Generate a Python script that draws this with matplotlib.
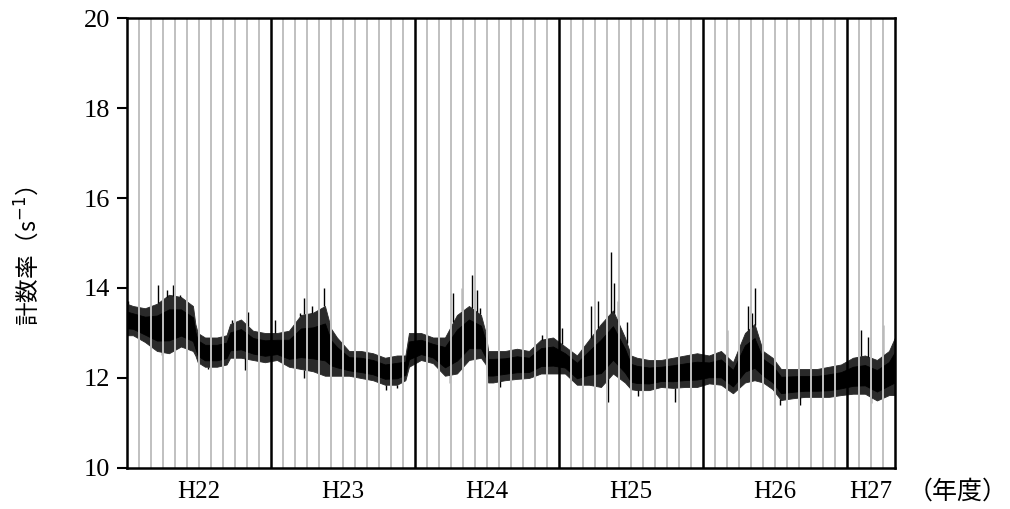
import numpy as np
import matplotlib.pyplot as plt

plt.rcParams['font.family'] = ['Liberation Serif', 'Noto Sans CJK JP', 'DejaVu Sans']

years = ['H22', 'H23', 'H24', 'H25', 'H26', 'H27']
months_in_year = [12, 12, 12, 12, 12, 4]

# 経過月 (H22年4月 = 0) ごとの計数率の幅 (s^-1)
t = [0.0, 0.5, 1.5, 2.5, 3.5, 4.5, 5.5, 5.7, 5.9, 6.5, 7.5, 8.3, 8.6, 9.5, 10.5, 11.5,
     12.5, 13.5, 14.5, 15.5, 16.5, 17.0, 17.5, 18.5, 19.5, 20.5, 21.5, 22.5, 23.2, 23.5,
     24.5, 25.5, 26.5, 27.5, 28.5, 29.5, 29.9, 30.1, 30.5, 31.5, 32.5, 33.5, 34.5, 35.5,
     36.5, 37.5, 38.5, 39.5, 40.5, 41.5, 42.0, 42.5, 43.5, 44.5, 45.5, 46.5, 47.5,
     48.5, 49.5, 50.5, 51.5, 52.3, 53.0, 53.8, 54.5, 55.5, 56.5, 57.5, 58.5, 59.5,
     60.5, 61.5, 62.5, 63.5, 64.0]
low = [12.95, 12.95, 12.8, 12.6, 12.55, 12.7, 12.6, 12.5, 12.35, 12.25, 12.25, 12.3, 12.45, 12.45, 12.4, 12.35,
       12.4, 12.25, 12.2, 12.15, 12.05, 12.05, 12.05, 12.05, 12.0, 11.95, 11.85, 11.85, 11.95, 12.25,
       12.4, 12.33, 12.05, 12.1, 12.4, 12.45, 12.3, 11.9, 11.9, 11.95, 11.98, 12.0, 12.1, 12.1,
       12.1, 11.85, 11.85, 11.8, 12.1, 11.9, 11.75, 11.73, 11.73, 11.8, 11.78, 11.8, 11.8,
       11.88, 11.85, 11.66, 11.9, 11.95, 11.9, 11.75, 11.51, 11.55, 11.58, 11.58, 11.58, 11.62,
       11.65, 11.65, 11.5, 11.62, 11.62]
high = [13.65, 13.6, 13.55, 13.65, 13.85, 13.8, 13.6, 13.2, 13.0, 12.9, 12.9, 12.95, 13.2, 13.3, 13.05, 13.0,
        13.0, 13.05, 13.4, 13.45, 13.6, 13.1, 12.9, 12.6, 12.6, 12.55, 12.45, 12.5, 12.5, 13.0,
        13.0, 12.9, 12.9, 13.4, 13.6, 13.4, 13.0, 12.6, 12.6, 12.6, 12.65, 12.6, 12.85, 12.9,
        12.7, 12.5, 12.85, 13.2, 13.5, 12.9, 12.5, 12.45, 12.4, 12.4, 12.45, 12.5, 12.55,
        12.5, 12.6, 12.35, 13.0, 13.2, 12.6, 12.45, 12.2, 12.2, 12.2, 12.2, 12.25, 12.3,
        12.45, 12.5, 12.4, 12.6, 12.9]

# とがったピーク
spike_t = [0.11, 2.61, 3.3, 3.86, 4.4, 8.72, 10.1, 12.33, 14.42, 14.78, 15.39, 15.94, 16.44,
           27.19, 27.89, 28.72, 29.14, 29.42, 34.56, 36.22, 38.64, 39.22, 40.33, 40.61, 40.94,
           41.64, 50.03, 51.78, 52.06, 52.33, 61.14, 61.75, 63.0]
spike_top = [13.7, 14.07, 13.96, 14.07, 13.84, 13.29, 13.47, 13.29, 13.44, 13.77, 13.59, 13.51, 13.99,
             13.88, 13.99, 14.29, 13.96, 13.55, 12.96, 13.1, 13.59, 13.7, 14.81, 14.1, 13.7,
             13.25, 13.07, 13.59, 13.44, 13.99, 13.07, 12.92, 13.18]
dip_t = [2.89, 6.78, 9.83, 14.78, 21.55, 22.47, 26.92, 31.08, 40.06, 42.61, 45.67, 54.42, 56.08, 62.03]
dip_bottom = [12.51, 12.21, 12.18, 11.99, 11.73, 11.77, 11.88, 11.81, 11.47, 11.59, 11.47, 11.4, 11.4, 11.44]

fig = plt.figure(figsize=(10.1, 5.09), dpi=100)
ax = fig.add_axes([0.1257, 0.0806, 0.7604, 0.884])

lo = np.array(low)
hi = np.array(high)
# 外側のばらつきは濃い灰色、中心部は黒
ax.fill_between(t, lo, hi, color='#2a2a2a', linewidth=0.6, zorder=2)
ax.fill_between(t, lo + 0.22 * (hi - lo), hi - 0.25 * (hi - lo), color='black', linewidth=0.6, zorder=2)
ax.vlines(spike_t, np.interp(spike_t, t, high), spike_top, color='black', lw=1.0, zorder=2)
ax.vlines(dip_t, dip_bottom, np.interp(dip_t, t, low), color='black', lw=1.0, zorder=2)

total = sum(months_in_year)
start = 0
for name, n in zip(years, months_in_year):
    for m in range(1, n):
        ax.axvline(start + m, color='#c0c0c0', lw=1.4, zorder=3)
    if start + n < total:
        ax.axvline(start + n, color='black', lw=1.8, zorder=4)
    ax.text(start + n / 2, -0.054, name, transform=ax.get_xaxis_transform(),
            ha='center', va='center', fontsize=18)
    start += n

ax.set_xlim(0, total)
ax.set_ylim(10, 20)
ax.set_yticks([10, 12, 14, 16, 18, 20])
ax.set_xticks([])
ax.tick_params(axis='y', direction='out', length=7, width=1.5, labelsize=19, pad=5)
for s in ax.spines.values():
    s.set_linewidth(1.8)
    s.set_zorder(5)

fig.text(27 / 1010, 1 - 256 / 509, '計数率（s$^{-1}$）', rotation=90, ha='center', va='center',
         fontsize=17, family=['Noto Sans CJK JP', 'DejaVu Sans'])
fig.text(958 / 1010, 1 - 492 / 509, '（年度）', ha='center', va='center',
         fontsize=18, family=['Noto Sans CJK JP', 'DejaVu Sans'])

fig.savefig('out.png', dpi=100)
